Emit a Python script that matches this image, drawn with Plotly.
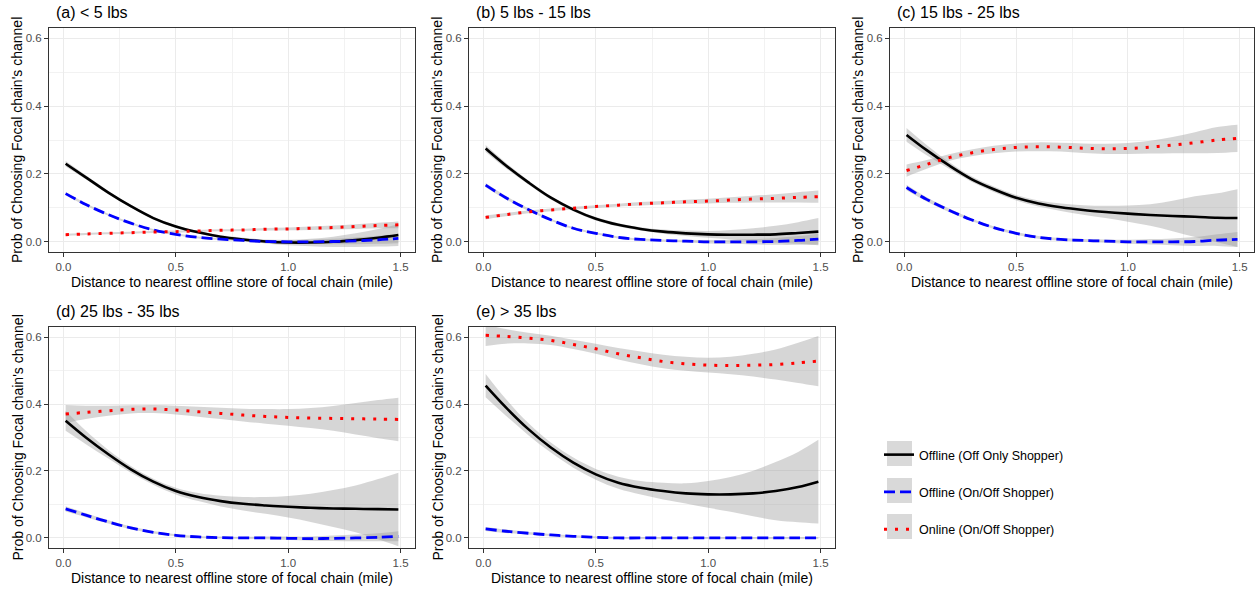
import plotly.graph_objects as go

W, H = 1255, 592

# ---------------- data ----------------
x_grid = [0.01, 0.1, 0.2, 0.3, 0.4, 0.5, 0.6, 0.7, 0.8, 0.9, 1.0, 1.1, 1.2, 1.3, 1.4, 1.49]

panel_titles = ["(a) &lt; 5 lbs", "(b) 5 lbs - 15 lbs", "(c) 15 lbs - 25 lbs",
                "(d) 25 lbs - 35 lbs", "(e) &gt; 35 lbs"]

series_names = ["Offline (Off Only Shopper)", "Offline (On/Off Shopper)", "Online (On/Off Shopper)"]

# (a) < 5 lbs
a_off_only = [0.230, 0.190, 0.145, 0.105, 0.070, 0.045, 0.028, 0.015, 0.007, 0.001, -0.002, -0.002, 0.000, 0.005, 0.012, 0.020]
a_off_onoff = [0.142, 0.110, 0.080, 0.055, 0.035, 0.022, 0.013, 0.008, 0.004, 0.001, 0.000, 0.000, 0.001, 0.003, 0.006, 0.010]
a_online = [0.021, 0.023, 0.025, 0.027, 0.029, 0.030, 0.032, 0.034, 0.035, 0.037, 0.038, 0.040, 0.042, 0.045, 0.048, 0.050]
a_off_only_se = [0.008, 0.006, 0.005, 0.004, 0.004, 0.004, 0.004, 0.004, 0.005, 0.006, 0.008, 0.011, 0.015, 0.020, 0.026, 0.032]
a_off_onoff_se = [0.005, 0.004, 0.003, 0.003, 0.003, 0.003, 0.003, 0.003, 0.003, 0.004, 0.005, 0.006, 0.008, 0.010, 0.012, 0.014]
a_online_se = [0.003, 0.003, 0.003, 0.003, 0.003, 0.003, 0.003, 0.003, 0.003, 0.004, 0.004, 0.005, 0.006, 0.007, 0.008, 0.010]

# (b) 5 lbs - 15 lbs
b_off_only = [0.275, 0.225, 0.175, 0.130, 0.095, 0.068, 0.050, 0.038, 0.030, 0.025, 0.022, 0.021, 0.021, 0.022, 0.026, 0.030]
b_off_onoff = [0.167, 0.130, 0.095, 0.065, 0.040, 0.025, 0.013, 0.007, 0.004, 0.002, 0.000, 0.000, 0.000, 0.001, 0.004, 0.008]
b_online = [0.072, 0.080, 0.088, 0.094, 0.099, 0.104, 0.108, 0.112, 0.115, 0.118, 0.120, 0.123, 0.126, 0.128, 0.131, 0.133]
b_off_only_se = [0.010, 0.008, 0.006, 0.005, 0.005, 0.005, 0.005, 0.005, 0.006, 0.008, 0.010, 0.014, 0.019, 0.025, 0.032, 0.040]
b_off_onoff_se = [0.006, 0.005, 0.004, 0.003, 0.003, 0.003, 0.003, 0.003, 0.003, 0.004, 0.005, 0.006, 0.008, 0.010, 0.013, 0.016]
b_online_se = [0.006, 0.005, 0.004, 0.004, 0.004, 0.004, 0.004, 0.005, 0.005, 0.006, 0.007, 0.008, 0.010, 0.012, 0.015, 0.018]

# (c) 15 lbs - 25 lbs
c_off_only = [0.315, 0.270, 0.225, 0.185, 0.155, 0.130, 0.113, 0.102, 0.094, 0.088, 0.083, 0.079, 0.076, 0.074, 0.071, 0.070]
c_off_onoff = [0.160, 0.125, 0.093, 0.065, 0.042, 0.025, 0.013, 0.007, 0.004, 0.002, 0.000, 0.000, 0.000, 0.001, 0.005, 0.007]
c_online = [0.210, 0.228, 0.248, 0.262, 0.272, 0.278, 0.280, 0.279, 0.276, 0.274, 0.275, 0.279, 0.285, 0.292, 0.300, 0.305]
c_off_only_se = [0.020, 0.015, 0.010, 0.008, 0.008, 0.008, 0.009, 0.011, 0.014, 0.018, 0.024, 0.032, 0.045, 0.060, 0.072, 0.085]
c_off_onoff_se = [0.008, 0.006, 0.005, 0.004, 0.004, 0.004, 0.004, 0.004, 0.004, 0.005, 0.006, 0.008, 0.010, 0.013, 0.017, 0.022]
c_online_se = [0.018, 0.013, 0.010, 0.010, 0.011, 0.012, 0.013, 0.013, 0.014, 0.015, 0.016, 0.019, 0.024, 0.031, 0.038, 0.040]

# (d) 25 lbs - 35 lbs
d_off_only = [0.350, 0.300, 0.250, 0.205, 0.168, 0.140, 0.122, 0.110, 0.102, 0.097, 0.093, 0.090, 0.088, 0.087, 0.086, 0.085]
d_off_onoff = [0.087, 0.068, 0.048, 0.030, 0.017, 0.008, 0.003, 0.001, 0.000, 0.000, -0.001, -0.002, -0.001, 0.000, 0.002, 0.005]
d_online = [0.370, 0.375, 0.380, 0.384, 0.385, 0.382, 0.377, 0.372, 0.367, 0.363, 0.360, 0.358, 0.357, 0.356, 0.355, 0.354]
d_off_only_se = [0.030, 0.020, 0.013, 0.010, 0.009, 0.010, 0.012, 0.016, 0.020, 0.025, 0.032, 0.042, 0.055, 0.070, 0.090, 0.110]
d_off_onoff_se = [0.008, 0.006, 0.005, 0.004, 0.004, 0.003, 0.003, 0.003, 0.003, 0.004, 0.005, 0.006, 0.008, 0.010, 0.012, 0.015]
d_online_se = [0.027, 0.020, 0.015, 0.012, 0.012, 0.013, 0.015, 0.017, 0.019, 0.022, 0.025, 0.030, 0.037, 0.047, 0.057, 0.065]

# (e) > 35 lbs
e_off_only = [0.455, 0.390, 0.325, 0.270, 0.225, 0.190, 0.165, 0.150, 0.140, 0.133, 0.130, 0.130, 0.133, 0.140, 0.152, 0.168]
e_off_onoff = [0.027, 0.020, 0.014, 0.009, 0.005, 0.002, 0.000, 0.000, 0.000, 0.000, 0.000, 0.000, 0.000, 0.000, 0.000, 0.000]
e_online = [0.605, 0.602, 0.597, 0.590, 0.578, 0.565, 0.550, 0.538, 0.527, 0.520, 0.516, 0.515, 0.516, 0.518, 0.523, 0.528]
e_off_only_se = [0.035, 0.025, 0.018, 0.015, 0.015, 0.016, 0.018, 0.020, 0.025, 0.030, 0.040, 0.052, 0.068, 0.087, 0.105, 0.125]
e_off_onoff_se = [0.006, 0.005, 0.004, 0.003, 0.003, 0.003, 0.003, 0.003, 0.003, 0.003, 0.003, 0.003, 0.003, 0.003, 0.003, 0.003]
e_online_se = [0.032, 0.022, 0.016, 0.014, 0.014, 0.015, 0.017, 0.019, 0.020, 0.021, 0.022, 0.026, 0.034, 0.045, 0.060, 0.075]

x_ticks = [0.0, 0.5, 1.0, 1.5]
x_tick_labels = ["0.0", "0.5", "1.0", "1.5"]
y_ticks = [0.0, 0.2, 0.4, 0.6]
y_tick_labels = ["0.0", "0.2", "0.4", "0.6"]

x_label = "Distance to nearest offline store of focal chain (mile)"
y_label = "Prob of Choosing Focal chain's channel"

panels = [
    (a_off_only, a_off_onoff, a_online, a_off_only_se, a_off_onoff_se, a_online_se),
    (b_off_only, b_off_onoff, b_online, b_off_only_se, b_off_onoff_se, b_online_se),
    (c_off_only, c_off_onoff, c_online, c_off_only_se, c_off_onoff_se, c_online_se),
    (d_off_only, d_off_onoff, d_online, d_off_only_se, d_off_onoff_se, d_online_se),
    (e_off_only, e_off_onoff, e_online, e_off_only_se, e_off_onoff_se, e_online_se),
]

# ---------------- styling / layout ----------------
FONT = "Liberation Sans, Arial, sans-serif"
col_px = [(49, 415), (469, 835), (890, 1254)]
row_px = [(28, 252), (327, 548)]
positions = [(0, 0), (0, 1), (0, 2), (1, 0), (1, 1)]

line_styles = [
    dict(color="black", width=2.6, dash="solid"),
    dict(color="#0000ff", width=2.8, dash="11px,5px"),
    dict(color="#ff0000", width=3, dash="3px,8px"),
]
band_color = "rgba(153,153,153,0.4)"

fig = go.Figure()
annotations = []
shapes = []

for i, (pdata, (r, c)) in enumerate(zip(panels, positions)):
    ax = "" if i == 0 else str(i + 1)
    xa, ya = "x" + ax, "y" + ax
    means = pdata[:3]
    ses = pdata[3:]
    for k in range(3):
        upper = [m + s for m, s in zip(means[k], ses[k])]
        lower = [m - s for m, s in zip(means[k], ses[k])]
        fig.add_trace(go.Scatter(x=x_grid, y=upper, mode="lines", line=dict(width=0, shape="spline"),
                                 xaxis=xa, yaxis=ya, showlegend=False, hoverinfo="skip"))
        fig.add_trace(go.Scatter(x=x_grid, y=lower, mode="lines", line=dict(width=0, shape="spline"),
                                 fill="tonexty", fillcolor=band_color,
                                 xaxis=xa, yaxis=ya, showlegend=False, hoverinfo="skip"))
    for k in range(3):
        st = line_styles[k]
        fig.add_trace(go.Scatter(x=x_grid, y=means[k], mode="lines",
                                 line=dict(color=st["color"], width=st["width"], dash=st["dash"], shape="spline"),
                                 name=series_names[k], legendgroup=series_names[k],
                                 showlegend=(i == 0), xaxis=xa, yaxis=ya))

    x0, x1 = col_px[c]
    y0, y1 = row_px[r]
    xdom = [x0 / W, x1 / W]
    ydom = [1 - y1 / H, 1 - y0 / H]
    axis_common = dict(
        showline=True, mirror=True, linecolor="#333333", linewidth=1,
        ticks="outside", ticklen=4, tickcolor="#333333", tickwidth=1,
        tickfont=dict(family=FONT, size=11.5, color="#4d4d4d"),
        showgrid=True, gridcolor="#ebebeb", gridwidth=1.1, zeroline=False,
        automargin=False,
    )
    fig.layout["xaxis" + ax] = dict(
        domain=xdom, anchor=ya, range=[-0.064, 1.564],
        tickvals=x_ticks, ticktext=x_tick_labels,
        minor=dict(tickvals=[0.25, 0.75, 1.25], showgrid=True, gridcolor="#f2f2f2", gridwidth=0.6, ticks=""),
        **axis_common)
    fig.layout["yaxis" + ax] = dict(
        domain=ydom, anchor=xa, range=[-0.03, 0.63],
        tickvals=y_ticks, ticktext=y_tick_labels,
        minor=dict(tickvals=[0.1, 0.3, 0.5], showgrid=True, gridcolor="#f2f2f2", gridwidth=0.6, ticks=""),
        **axis_common)

    # panel title
    annotations.append(dict(text=panel_titles[i], xref="paper", yref="paper",
                            x=(x0 + 5) / W, y=1 - (y0 - 15) / H, xanchor="left", yanchor="middle",
                            showarrow=False, font=dict(family=FONT, size=16, color="black")))
    # x axis title
    annotations.append(dict(text=x_label, xref="paper", yref="paper",
                            x=(x0 + x1) / 2 / W, y=1 - (y1 + 30) / H, xanchor="center", yanchor="middle",
                            showarrow=False, font=dict(family=FONT, size=14, color="black")))
    # y axis title
    annotations.append(dict(text=y_label, xref="paper", yref="paper", textangle=-90,
                            x=(x0 - 32) / W, y=1 - (y0 + y1) / 2 / H, xanchor="center", yanchor="middle",
                            showarrow=False, font=dict(family=FONT, size=14, color="black")))

# grey key backgrounds behind the legend symbols
for ky0, ky1 in [(441, 466), (478, 503), (514, 539)]:
    shapes.append(dict(type="rect", xref="paper", yref="paper",
                       x0=887 / W, x1=912 / W, y0=1 - ky1 / H, y1=1 - ky0 / H,
                       fillcolor="#d9d9d9", line=dict(width=0), layer="below"))

fig.update_layout(
    template="none",
    width=W, height=H, margin=dict(l=0, r=0, t=0, b=0, autoexpand=False),
    paper_bgcolor="white", plot_bgcolor="white",
    annotations=annotations, shapes=shapes,
    showlegend=True,
    legend=dict(x=879 / W, y=1 - 440 / H, xanchor="left", yanchor="top",
                font=dict(family=FONT, size=12.5, color="black"),
                traceorder="grouped", tracegroupgap=18, itemwidth=30,
                bgcolor="rgba(0,0,0,0)", borderwidth=0),
)

fig.write_html("out.html", config={"displayModeBar": False},
               post_script="document.body.style.margin='0px';")
